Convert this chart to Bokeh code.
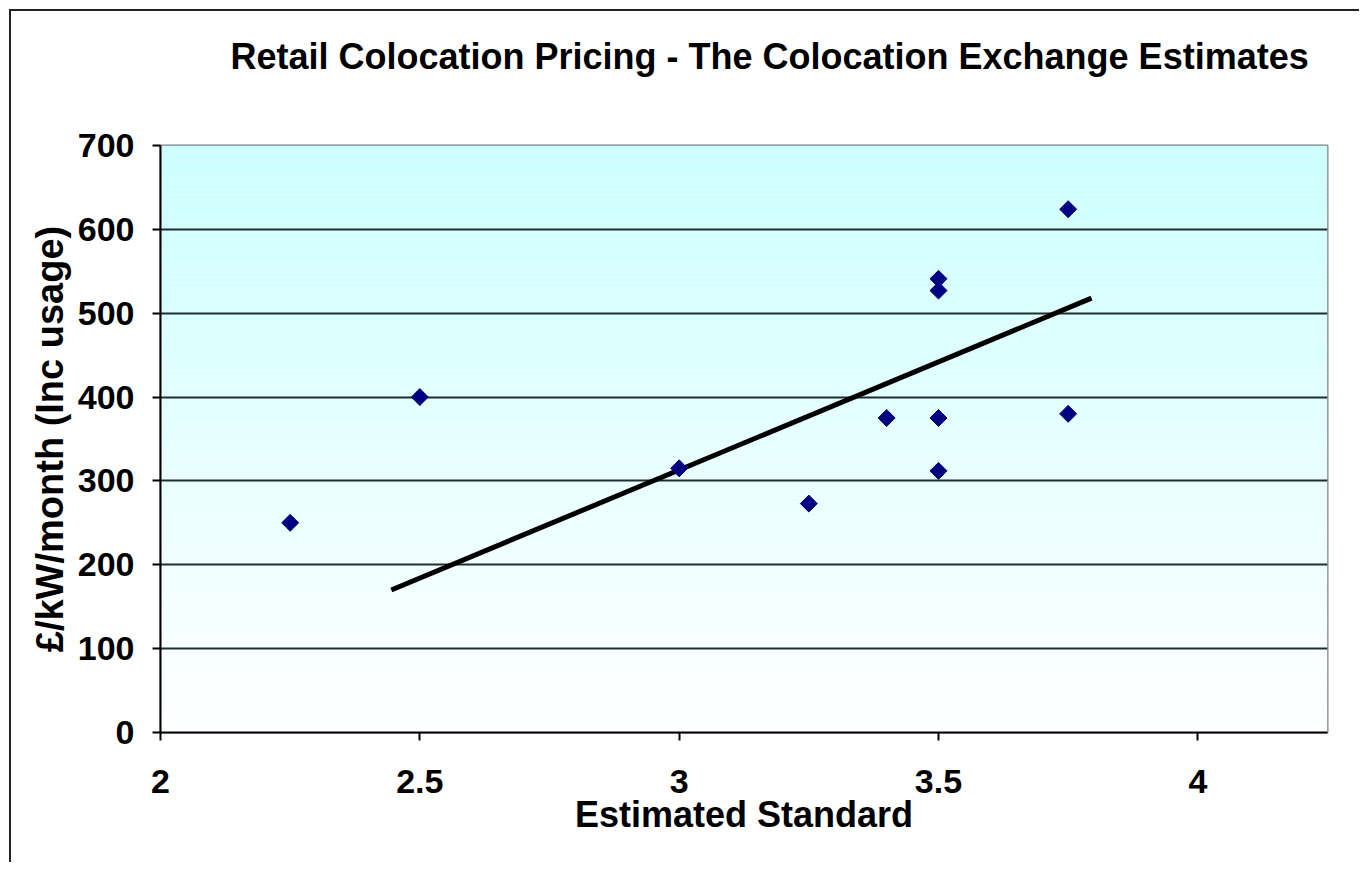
import numpy as np
from bokeh.plotting import figure
from bokeh.models import Range1d, FixedTicker, ColumnDataSource, Title
from bokeh.embed import file_html
from bokeh.resources import INLINE

# ---- data ----
standard = [2.25, 2.5, 3.0, 3.25, 3.4, 3.5, 3.5, 3.5, 3.5, 3.75, 3.75]
price = [250, 400, 315, 273, 375, 541, 527, 375, 312, 624, 380]
trend_x = [2.445, 3.795]
trend_y = [170, 518]
x_ticks = [2, 2.5, 3, 3.5, 4]
y_ticks = [0, 100, 200, 300, 400, 500, 600, 700]
title_text = "Retail Colocation Pricing - The Colocation Exchange Estimates"

FONT = "Liberation Sans"

p = figure(
    output_backend="svg", toolbar_location=None,
    x_range=Range1d(2, 4.25), y_range=Range1d(0, 700),
    frame_width=1167, frame_height=587,
    min_border_left=149, min_border_top=134,
    min_border_right=32, min_border_bottom=130,
)
p.styles = {"margin-left": "9px", "margin-top": "9px",
            "border-left": "2px solid #222222", "border-top": "2px solid #222222"}

# spacer between frame and title, then the title itself
p.add_layout(Title(text=" ", text_font_size="1px", standoff=66), "above")
p.add_layout(Title(text=title_text, text_font=FONT, text_font_size="36px",
                   text_font_style="bold", text_color="black", align="left",
                   offset=70, standoff=0), "above")

# gradient background (cyan at top -> white at bottom)
n = 120
edges = np.linspace(0, 700, n + 1)
top_c = np.array([204, 255, 255])
bot_c = np.array([255, 255, 255])
cols = []
for i in range(n):
    t = (i + 0.5) / n
    c = bot_c + (top_c - bot_c) * t
    cols.append("#%02x%02x%02x" % tuple(int(round(v)) for v in c))
p.quad(left=2, right=4.25, bottom=edges[:-1], top=edges[1:], fill_color=cols,
       line_color=None, level="image")

p.background_fill_color = "white"
p.border_fill_color = "white"
p.outline_line_color = "#808080"
p.outline_line_width = 2

# grid
p.xgrid.visible = False
p.ygrid.grid_line_color = "#1f2f2f"
p.ygrid.grid_line_width = 2
p.ygrid.ticker = FixedTicker(ticks=y_ticks)

# axes
for ax in (p.xaxis[0], p.yaxis[0]):
    ax.axis_line_color = "black"
    ax.axis_line_width = 2
    ax.major_tick_line_color = "black"
    ax.major_tick_line_width = 2
    ax.major_tick_out = 8
    ax.major_tick_in = 0
    ax.minor_tick_out = 0
    ax.minor_tick_in = 0
    ax.major_label_text_font = FONT
    ax.major_label_text_font_size = "34px"
    ax.major_label_text_font_style = "bold"
    ax.major_label_text_color = "black"
    ax.axis_label_text_font = FONT
    ax.axis_label_text_font_style = "bold"
    ax.axis_label_text_color = "black"

p.xaxis.ticker = FixedTicker(ticks=x_ticks)
p.yaxis.ticker = FixedTicker(ticks=y_ticks)
p.xaxis.major_label_overrides = {2: "2", 2.5: "2.5", 3: "3", 3.5: "3.5", 4: "4"}
p.xaxis.major_label_standoff = 29
p.yaxis.major_label_standoff = 18

p.xaxis.axis_label = "Estimated Standard"
p.xaxis.axis_label_text_font_size = "36px"
p.xaxis.axis_label_standoff = -2
p.yaxis.axis_label = "£/kW/month (Inc usage)"
p.yaxis.axis_label_text_font_size = "38px"
p.yaxis.axis_label_standoff = 4

# trend line
p.line(trend_x, trend_y, line_color="black", line_width=5)

# points
src = ColumnDataSource(dict(x=standard, y=price))
p.scatter("x", "y", source=src, marker="square", angle=np.pi / 4, size=12,
          fill_color="#000080", line_color="#000080")

open("out.html", "w").write(file_html(p, INLINE))
